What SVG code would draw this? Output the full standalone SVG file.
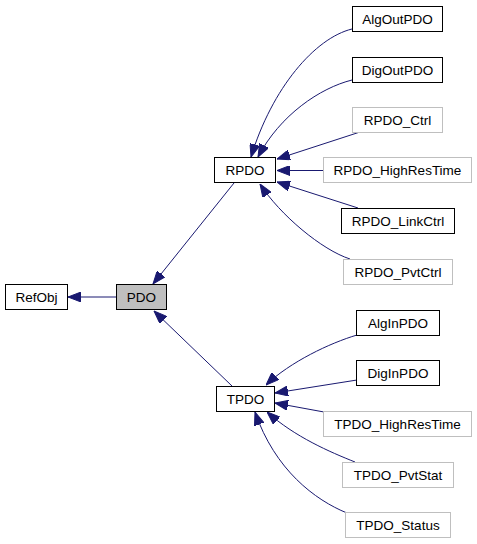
<svg xmlns="http://www.w3.org/2000/svg" width="477" height="544" viewBox="0 0 477 544">
<style>
.bg{fill:#ffffff}
.n rect{fill:#ffffff;stroke:#000000;stroke-width:1}
.n.g rect{stroke:#bfbfbf}
.n.cur rect{fill:#bfbfbf}
.n text{font-family:"Liberation Sans",Arial,Helvetica,sans-serif;font-size:13.5px;fill:#000000;text-anchor:middle}
.e path{fill:none;stroke:#191970;stroke-width:1;marker-end:url(#ah)}
</style>
<defs>
<marker id="ah" viewBox="0 -5 13 10" refX="13" refY="0" markerWidth="13" markerHeight="10" markerUnits="userSpaceOnUse" orient="auto">
<path d="M0,-5 L13,0 L0,5 z" fill="#191970" stroke="#191970" stroke-width="1"/>
</marker>
</defs>
<rect class="bg" x="0" y="0" width="477" height="544"/>
<g id="connectors" class="e">
<path d="M116,297 L68,297"/>
<path d="M234,183 L153,284"/>
<path d="M232,386 L154,311"/>
<path d="M352,29 C315,38 272,88 251,157"/>
<path d="M352,80 C320,88 280,115 258,157"/>
<path d="M360,132 L277,159"/>
<path d="M323,170.5 L277,170.5"/>
<path d="M358,208 L277,182"/>
<path d="M350,259 C322,250 280,215 260,184"/>
<path d="M357,335 C330,343 290,362 266,385"/>
<path d="M357,380 L275,393"/>
<path d="M324,412 L275,403"/>
<path d="M355,462 C330,452 295,437 267,412"/>
<path d="M347,513 C315,500 275,470 255,412"/>
</g>
<g id="RefObj" class="n"><rect x="5.5" y="284.5" width="62" height="25"/><text x="36.5" y="301.5">RefObj</text></g>
<g id="PDO" class="n cur"><rect x="116.5" y="284.5" width="50" height="25"/><text x="141.5" y="301.5">PDO</text></g>
<g id="RPDO" class="n"><rect x="214.5" y="157.5" width="61" height="25"/><text x="245" y="174.5">RPDO</text></g>
<g id="TPDO" class="n"><rect x="216.5" y="386.5" width="58" height="25"/><text x="245.5" y="403.5">TPDO</text></g>
<g id="AlgOutPDO" class="n"><rect x="352.5" y="6.5" width="90" height="25"/><text x="397.5" y="23.5">AlgOutPDO</text></g>
<g id="DigOutPDO" class="n"><rect x="352.5" y="57.5" width="90" height="25"/><text x="397.5" y="74.5">DigOutPDO</text></g>
<g id="RPDO_Ctrl" class="n g"><rect x="352.5" y="107.5" width="90" height="25"/><text x="397.5" y="124.5">RPDO_Ctrl</text></g>
<g id="RPDO_HighResTime" class="n g"><rect x="323.5" y="157.5" width="148" height="25"/><text x="397.5" y="174.5">RPDO_HighResTime</text></g>
<g id="RPDO_LinkCtrl" class="n"><rect x="341.5" y="208.5" width="113" height="25"/><text x="398" y="225.5">RPDO_LinkCtrl</text></g>
<g id="RPDO_PvtCtrl" class="n g"><rect x="343.5" y="259.5" width="109" height="25"/><text x="398" y="276.5">RPDO_PvtCtrl</text></g>
<g id="AlgInPDO" class="n"><rect x="356.5" y="310.5" width="83" height="25"/><text x="398" y="327.5">AlgInPDO</text></g>
<g id="DigInPDO" class="n"><rect x="356.5" y="360.5" width="83" height="25"/><text x="398" y="377.5">DigInPDO</text></g>
<g id="TPDO_HighResTime" class="n g"><rect x="323.5" y="411.5" width="148" height="25"/><text x="397.5" y="428.5">TPDO_HighResTime</text></g>
<g id="TPDO_PvtStat" class="n g"><rect x="342.5" y="462.5" width="111" height="25"/><text x="398" y="479.5">TPDO_PvtStat</text></g>
<g id="TPDO_Status" class="n g"><rect x="345.5" y="512.5" width="105" height="25"/><text x="398" y="529.5">TPDO_Status</text></g>
</svg>
